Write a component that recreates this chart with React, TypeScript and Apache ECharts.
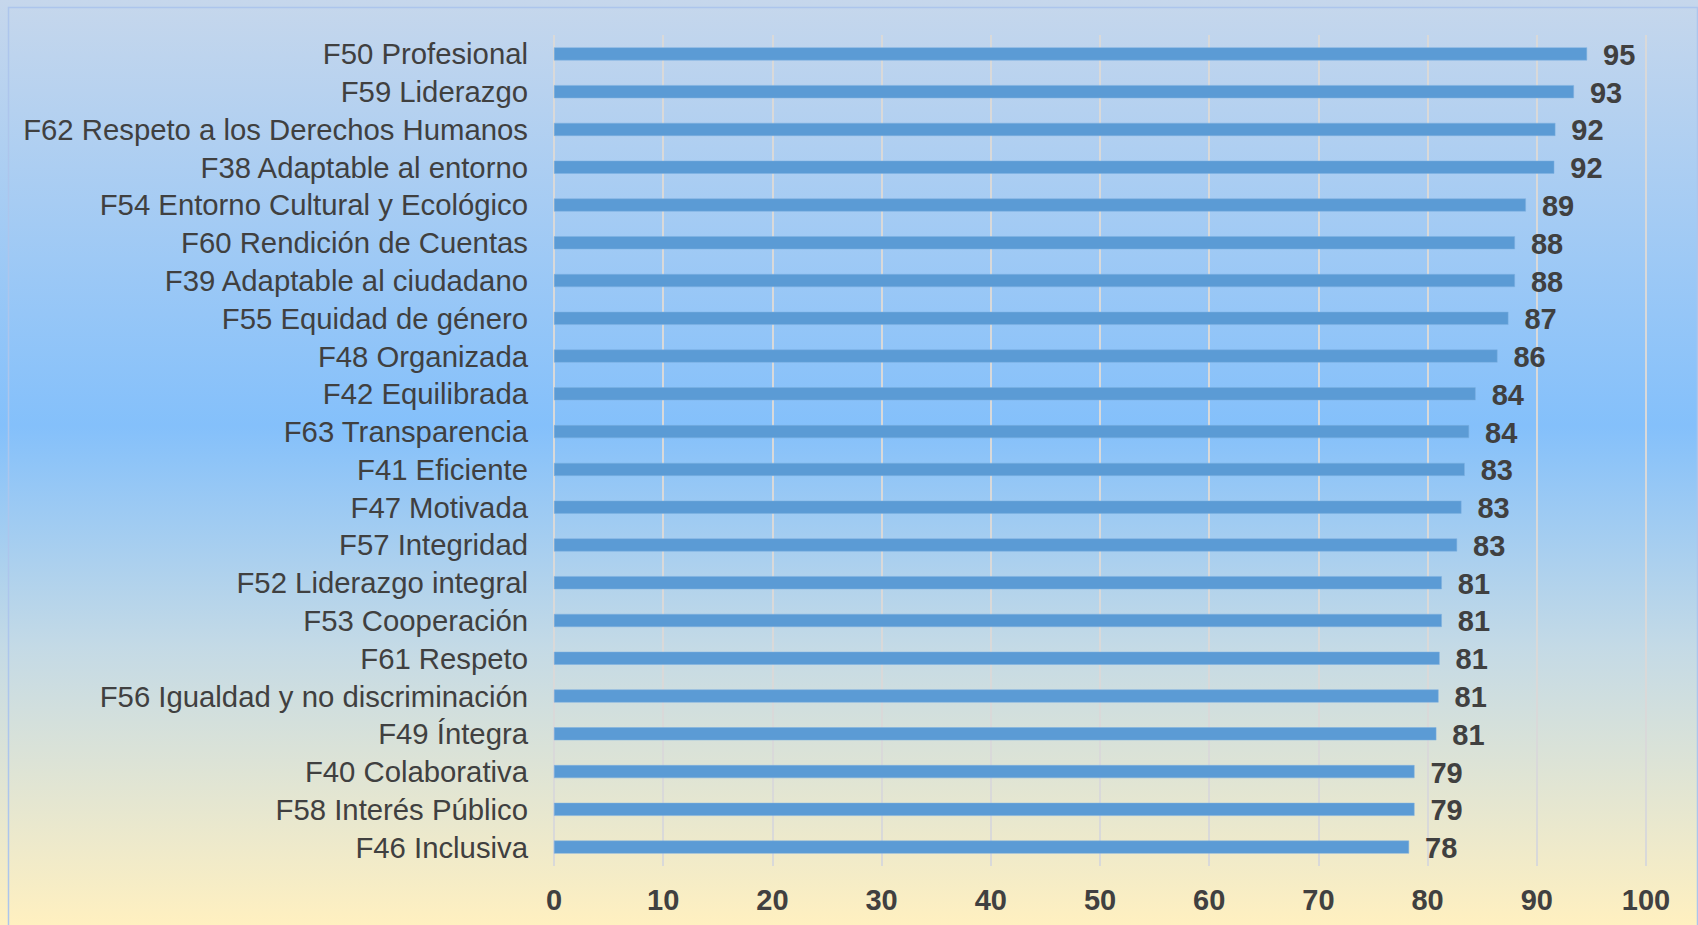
import React, { useEffect, useRef } from "react";
import * as echarts from "echarts";

const categories = [
  "F50 Profesional",
  "F59 Liderazgo",
  "F62 Respeto a los Derechos Humanos",
  "F38 Adaptable al entorno",
  "F54 Entorno Cultural y Ecológico",
  "F60 Rendición de Cuentas",
  "F39 Adaptable al ciudadano",
  "F55 Equidad de género",
  "F48 Organizada",
  "F42 Equilibrada",
  "F63 Transparencia",
  "F41 Eficiente",
  "F47 Motivada",
  "F57 Integridad",
  "F52 Liderazgo integral",
  "F53 Cooperación",
  "F61 Respeto",
  "F56 Igualdad y no discriminación",
  "F49 Íntegra",
  "F40 Colaborativa",
  "F58 Interés Público",
  "F46 Inclusiva",
];

const values = [
  94.6, 93.4, 91.7, 91.6, 89.0, 88.0, 88.0, 87.4, 86.4, 84.4, 83.8, 83.4,
  83.1, 82.7, 81.3, 81.3, 81.1, 81.0, 80.8, 78.8, 78.8, 78.3,
];

const xTicks = { min: 0, max: 100, interval: 10 };

export default function App() {
  const ref = useRef<HTMLDivElement>(null);
  useEffect(() => {
    document.body.style.margin = "0";
    if (!ref.current) return;
    const chart = echarts.init(ref.current, null, { renderer: "svg" });
    const font = "'Liberation Sans', Arial, sans-serif";
    chart.setOption({
      animation: false,
      backgroundColor: {
        type: "linear",
        x: 0,
        y: 0,
        x2: 0,
        y2: 1,
        colorStops: [
          { offset: 0, color: "#c6d7ec" },
          { offset: 0.46, color: "#84c0fb" },
          { offset: 0.7, color: "#c4dae6" },
          { offset: 1, color: "#fff0c0" },
        ],
      },
      textStyle: { fontFamily: font },
      graphic: [
        {
          type: "rect",
          left: 6,
          top: 5,
          shape: { width: 1689, height: 940 },
          style: { fill: "none", stroke: "#adc5ec", lineWidth: 1.5 },
          silent: true,
        },
      ],
      grid: { left: 554, right: 52, top: 35, bottom: 59, containLabel: false },
      xAxis: {
        type: "value",
        min: xTicks.min,
        max: xTicks.max,
        interval: xTicks.interval,
        axisLine: { show: false },
        axisTick: { show: false },
        splitLine: { show: true, lineStyle: { color: "#d9d9d9", width: 2 } },
        axisLabel: {
          fontSize: 29,
          fontWeight: "bold",
          color: "#404040",
          margin: 19,
          fontFamily: font,
        },
      },
      yAxis: {
        type: "category",
        data: categories,
        inverse: true,
        axisLine: { show: false },
        axisTick: { show: false },
        axisLabel: {
          fontSize: 29.3,
          color: "#404040",
          margin: 26,
          fontFamily: font,
        },
      },
      series: [
        {
          type: "bar",
          data: values,
          barWidth: 13,
          itemStyle: { color: "#5b9bd5", borderColor: "#7fb0e0", borderWidth: 0.5 },
          label: {
            show: true,
            position: "right",
            distance: 16,
            fontSize: 29,
            fontWeight: "bold",
            color: "#404040",
            fontFamily: font,
            offset: [0, 1],
            formatter: (p: any) => Number(p.value).toFixed(0),
          },
        },
      ],
    });
    return () => chart.dispose();
  }, []);
  return <div ref={ref} style={{ width: 1698, height: 925 }} />;
}
